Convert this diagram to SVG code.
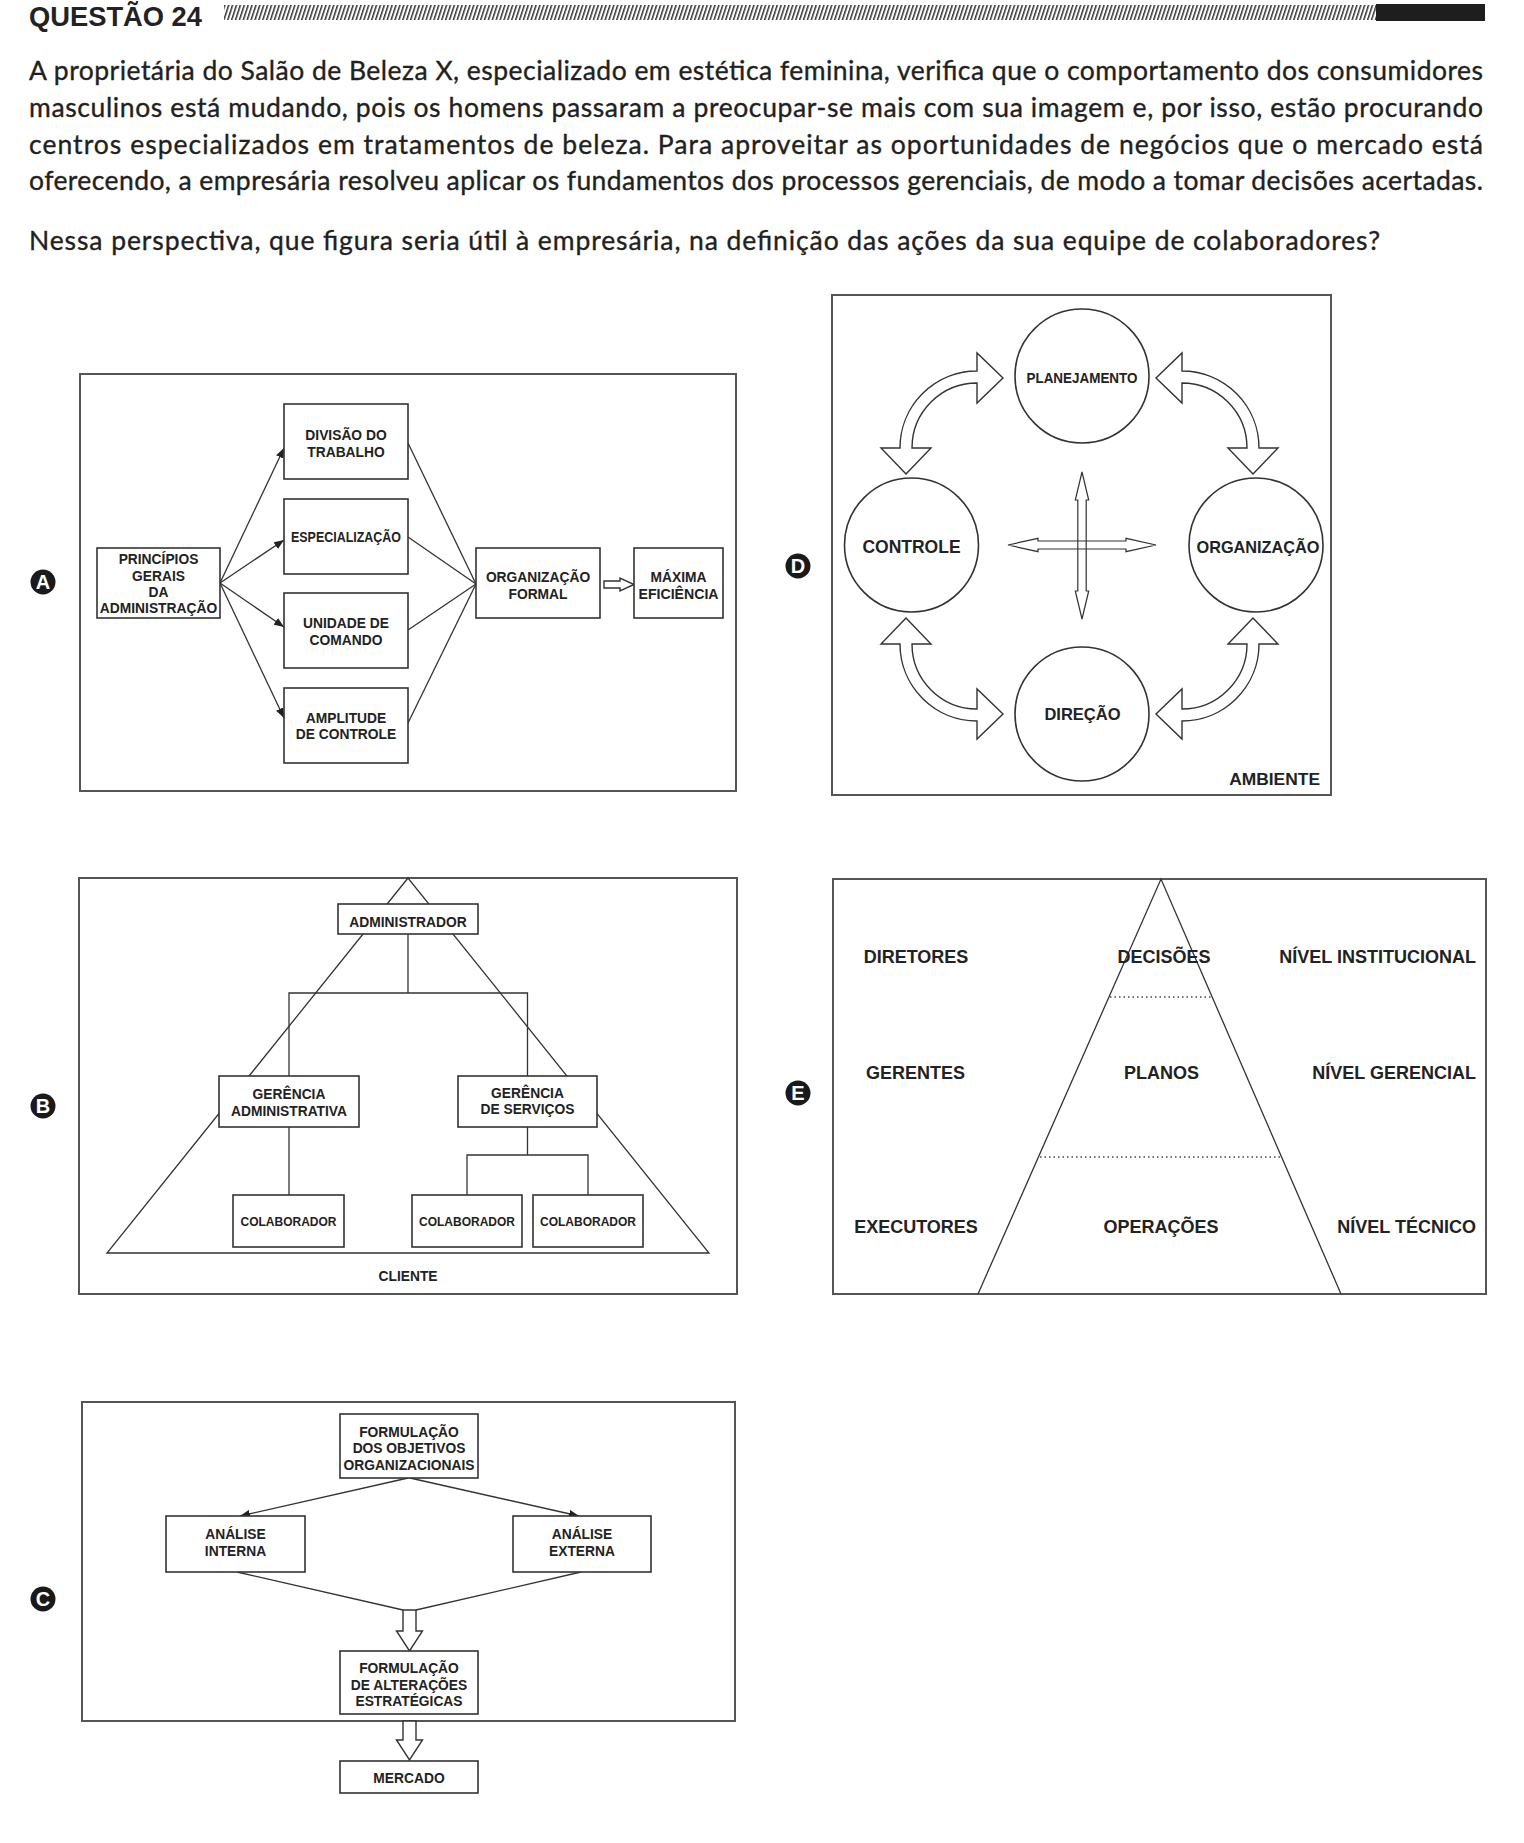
<svg xmlns="http://www.w3.org/2000/svg" width="1524" height="1843" viewBox="0 0 1524 1843">
<defs>
<style>
.body{font-family:Lato,"Open Sans",sans-serif;font-size:26.5px;fill:#231f20;stroke:#231f20;stroke-width:0.35}
.head{font-family:"Liberation Sans",Arial,sans-serif;font-weight:bold;font-size:27.5px;fill:#222}
.lbl{font-family:"Liberation Sans",Arial,sans-serif;font-weight:bold;font-size:13.8px;fill:#222;text-anchor:middle}
.sm{font-size:12px}
.e{font-size:18px}
.end{text-anchor:end}
.frame{fill:#fff;stroke:#555;stroke-width:2}
.box{fill:#fff;stroke:#333;stroke-width:1.6}
.circ{fill:#fff;stroke:#333;stroke-width:1.6}
.ln{fill:none;stroke:#333;stroke-width:1.3}
.dot{fill:none;stroke:#444;stroke-width:1.4;stroke-dasharray:1.5 3}
.hol{fill:#fff;stroke:#333;stroke-width:1.4;stroke-linejoin:miter}
.holn{fill:none;stroke:#333;stroke-width:1.2;stroke-linejoin:miter}
.badge circle{fill:#1a1a1a}
.badge text{font-family:"Liberation Sans",Arial,sans-serif;font-weight:bold;font-size:20px;fill:#fff;text-anchor:middle}
</style>
<marker id="ah" viewBox="0 0 10 8" refX="10" refY="4" markerWidth="10" markerHeight="8" markerUnits="userSpaceOnUse" orient="auto">
<path d="M0,0 L10,4 L0,8 Z" fill="#222"/>
</marker>
<pattern id="hatch" patternUnits="userSpaceOnUse" width="3.7" height="20" patternTransform="rotate(18)">
<rect x="0" y="0" width="1.5" height="20" fill="#333"/>
</pattern>
<path id="arrTL" class="hol" d="M906,474 L931,448 L912,448 A65,65 0 0 1 977,383 L977,403 L1003,378 L977,353 L977,371 A77,77 0 0 0 900,448 L881,448 Z"/>
</defs>
<rect x="0" y="0" width="1524" height="1843" fill="#fff"/>

<g id="header">
<text class="head" x="29" y="25.5" textLength="173" lengthAdjust="spacingAndGlyphs">QUESTÃO 24</text>
<rect x="224" y="5" width="1152" height="15" fill="url(#hatch)"/>
<rect x="1376" y="4" width="109" height="17" fill="#1e1e1e"/>
</g>

<g id="statement">
<text class="body" x="29" y="80" textLength="1454" lengthAdjust="spacing">A proprietária do Salão de Beleza X, especializado em estética feminina, verifica que o comportamento dos consumidores</text>
<text class="body" x="29" y="117" textLength="1454" lengthAdjust="spacing">masculinos está mudando, pois os homens passaram a preocupar-se mais com sua imagem e, por isso, estão procurando</text>
<text class="body" x="29" y="153.5" textLength="1454" lengthAdjust="spacing">centros especializados em tratamentos de beleza. Para aproveitar as oportunidades de negócios que o mercado está</text>
<text class="body" x="29" y="190" textLength="1454" lengthAdjust="spacing">oferecendo, a empresária resolveu aplicar os fundamentos dos processos gerenciais, de modo a tomar decisões acertadas.</text>
<text class="body" x="29" y="250" textLength="1351" lengthAdjust="spacing">Nessa perspectiva, que figura seria útil à empresária, na definição das ações da sua equipe de colaboradores?</text>
</g>

<g id="badges">
<g class="badge" id="badge-a"><circle cx="43" cy="582" r="12.5"/><text x="43" y="589">A</text></g>
<g class="badge" id="badge-b"><circle cx="43" cy="1106" r="12.5"/><text x="43" y="1113">B</text></g>
<g class="badge" id="badge-c"><circle cx="43" cy="1599" r="12.5"/><text x="43" y="1606">C</text></g>
<g class="badge" id="badge-d"><circle cx="798" cy="566" r="12.5"/><text x="798" y="573">D</text></g>
<g class="badge" id="badge-e"><circle cx="798" cy="1093" r="12.5"/><text x="798" y="1100">E</text></g>
</g>

<!-- FIGURE A -->
<g id="figA">
<rect class="frame" x="80" y="374" width="656" height="417"/>
<g id="a-connectors">
<line class="ln" x1="220" y1="583" x2="284" y2="448" marker-end="url(#ah)"/>
<line class="ln" x1="220" y1="583" x2="284" y2="540" marker-end="url(#ah)"/>
<line class="ln" x1="220" y1="583" x2="284" y2="627" marker-end="url(#ah)"/>
<line class="ln" x1="220" y1="583" x2="284" y2="718" marker-end="url(#ah)"/>
<line class="ln" x1="408" y1="443" x2="476" y2="584"/>
<line class="ln" x1="408" y1="537" x2="476" y2="584"/>
<line class="ln" x1="408" y1="630" x2="476" y2="584"/>
<line class="ln" x1="408" y1="723" x2="476" y2="584"/>
<path class="hol" d="M604,581 L620,581 L620,578 L634,584.5 L620,591 L620,588 L604,588 Z"/>
</g>
<g id="a-principios"><rect class="box" x="97" y="548" width="123" height="70"/>
<text class="lbl" x="158.5" y="564">PRINCÍPIOS</text><text class="lbl" x="158.5" y="581">GERAIS</text><text class="lbl" x="158.5" y="597">DA</text><text class="lbl" x="158.5" y="613">ADMINISTRAÇÃO</text></g>
<g id="a-divisao"><rect class="box" x="284" y="404" width="124" height="75"/>
<text class="lbl" x="346" y="440">DIVISÃO DO</text><text class="lbl" x="346" y="457">TRABALHO</text></g>
<g id="a-especializacao"><rect class="box" x="284" y="499" width="124" height="75"/>
<text class="lbl" x="346" y="542" textLength="110" lengthAdjust="spacingAndGlyphs">ESPECIALIZAÇÃO</text></g>
<g id="a-unidade"><rect class="box" x="284" y="593" width="124" height="75"/>
<text class="lbl" x="346" y="628">UNIDADE DE</text><text class="lbl" x="346" y="645">COMANDO</text></g>
<g id="a-amplitude"><rect class="box" x="284" y="688" width="124" height="75"/>
<text class="lbl" x="346" y="723">AMPLITUDE</text><text class="lbl" x="346" y="739">DE CONTROLE</text></g>
<g id="a-organizacao"><rect class="box" x="476" y="548" width="124" height="70"/>
<text class="lbl" x="538" y="582">ORGANIZAÇÃO</text><text class="lbl" x="538" y="599">FORMAL</text></g>
<g id="a-maxima"><rect class="box" x="634" y="548" width="89" height="70"/>
<text class="lbl" x="678.5" y="582">MÁXIMA</text><text class="lbl" x="678.5" y="599" textLength="80" lengthAdjust="spacingAndGlyphs">EFICIÊNCIA</text></g>
</g>

<!-- FIGURE B -->
<g id="figB">
<rect class="frame" x="79" y="878" width="658" height="416"/>
<polygon class="ln" points="408,878 107,1253 709,1253"/>
<g id="b-connectors">
<polyline class="ln" points="408,934 408,993"/>
<polyline class="ln" points="289,1076 289,993 527.5,993 527.5,1076"/>
<polyline class="ln" points="289,1127 289,1195"/>
<polyline class="ln" points="527.5,1127 527.5,1155"/>
<polyline class="ln" points="467,1195 467,1155 588,1155 588,1195"/>
</g>
<g id="b-admin"><rect class="box" x="338" y="904" width="140" height="30"/>
<text class="lbl" x="408" y="927">ADMINISTRADOR</text></g>
<g id="b-ger-adm"><rect class="box" x="219" y="1076" width="140" height="51"/>
<text class="lbl" x="289" y="1099">GERÊNCIA</text><text class="lbl" x="289" y="1116">ADMINISTRATIVA</text></g>
<g id="b-ger-serv"><rect class="box" x="458" y="1076" width="139" height="51"/>
<text class="lbl" x="527.5" y="1098">GERÊNCIA</text><text class="lbl" x="527.5" y="1114">DE SERVIÇOS</text></g>
<g id="b-colab1"><rect class="box" x="233" y="1195" width="111" height="52"/>
<text class="lbl sm" x="288.5" y="1225.5">COLABORADOR</text></g>
<g id="b-colab2"><rect class="box" x="412" y="1195" width="110" height="52"/>
<text class="lbl sm" x="467" y="1225.5">COLABORADOR</text></g>
<g id="b-colab3"><rect class="box" x="533" y="1195" width="110" height="52"/>
<text class="lbl sm" x="588" y="1225.5">COLABORADOR</text></g>
<g id="b-cliente"><text class="lbl" x="408" y="1281">CLIENTE</text></g>
</g>

<!-- FIGURE C -->
<g id="figC">
<rect class="frame" x="82" y="1402" width="653" height="319"/>
<g id="c-connectors">
<line class="ln" x1="408" y1="1478" x2="240" y2="1516" marker-end="url(#ah)"/>
<line class="ln" x1="410" y1="1478" x2="579" y2="1516" marker-end="url(#ah)"/>
<line class="ln" x1="237" y1="1572" x2="403" y2="1610"/>
<line class="ln" x1="581" y1="1572" x2="416" y2="1610"/>
<path class="hol" d="M403,1610 L416,1610 L416,1631 L422.5,1631 L409.5,1651 L396.5,1631 L403,1631 Z"/>
<path class="hol" d="M403,1721 L416,1721 L416,1740 L422.5,1740 L409.5,1760 L396.5,1740 L403,1740 Z"/>
</g>
<g id="c-objetivos"><rect class="box" x="340" y="1414" width="138" height="64"/>
<text class="lbl" x="409" y="1437">FORMULAÇÃO</text><text class="lbl" x="409" y="1453">DOS OBJETIVOS</text><text class="lbl" x="409" y="1470">ORGANIZACIONAIS</text></g>
<g id="c-interna"><rect class="box" x="166" y="1516" width="139" height="56"/>
<text class="lbl" x="235.5" y="1539">ANÁLISE</text><text class="lbl" x="235.5" y="1556">INTERNA</text></g>
<g id="c-externa"><rect class="box" x="513" y="1516" width="138" height="56"/>
<text class="lbl" x="582" y="1539">ANÁLISE</text><text class="lbl" x="582" y="1556">EXTERNA</text></g>
<g id="c-alteracoes"><rect class="box" x="340" y="1651" width="138" height="63"/>
<text class="lbl" x="409" y="1673">FORMULAÇÃO</text><text class="lbl" x="409" y="1690">DE ALTERAÇÕES</text><text class="lbl" x="409" y="1706">ESTRATÉGICAS</text></g>
<g id="c-mercado"><rect class="box" x="340" y="1761" width="138" height="32"/>
<text class="lbl" x="409" y="1783">MERCADO</text></g>
</g>

<!-- FIGURE D -->
<g id="figD">
<rect class="frame" x="832" y="295" width="499" height="500"/>
<g id="d-connectors">
<use href="#arrTL"/>
<use href="#arrTL" transform="matrix(-1 0 0 1 2159 0)"/>
<use href="#arrTL" transform="matrix(1 0 0 -1 0 1092)"/>
<use href="#arrTL" transform="matrix(-1 0 0 -1 2159 1092)"/>
<path class="holn" d="M1082,472 L1088.7,500 L1086.2,500 L1086.2,591 L1088.7,591 L1082,619 L1075.3,591 L1077.8,591 L1077.8,500 L1075.3,500 Z"/>
<path class="holn" d="M1008,545 L1038,538.3 L1038,541 L1126,541 L1126,538.3 L1156,545 L1126,551.7 L1126,549 L1038,549 L1038,551.7 Z"/>
</g>
<g id="d-planejamento"><circle class="circ" cx="1082" cy="376" r="67"/>
<text class="lbl" x="1082" y="382.5" style="font-size:14.5px" textLength="111" lengthAdjust="spacingAndGlyphs">PLANEJAMENTO</text></g>
<g id="d-controle"><circle class="circ" cx="911.5" cy="545" r="67"/>
<text class="lbl" x="911.5" y="553" style="font-size:17.5px">CONTROLE</text></g>
<g id="d-organizacao"><circle class="circ" cx="1256" cy="545" r="67"/>
<text class="lbl" x="1258" y="553" style="font-size:17px" textLength="123" lengthAdjust="spacingAndGlyphs">ORGANIZAÇÃO</text></g>
<g id="d-direcao"><circle class="circ" cx="1082" cy="714" r="67"/>
<text class="lbl" x="1082.5" y="720" style="font-size:16.5px">DIREÇÃO</text></g>
<g id="d-ambiente"><text class="lbl end" x="1320" y="785" style="font-size:17.4px">AMBIENTE</text></g>
</g>

<!-- FIGURE E -->
<g id="figE">
<rect class="frame" x="833" y="879" width="653" height="415"/>
<g id="e-connectors">
<polyline class="ln" points="978,1294 1161,879 1341,1294"/>
<line class="dot" x1="1110" y1="997" x2="1212" y2="997"/>
<line class="dot" x1="1040" y1="1157" x2="1282" y2="1157"/>
</g>
<g id="e-row1">
<text class="lbl e" x="916" y="963">DIRETORES</text>
<text class="lbl e" x="1164" y="963">DECISÕES</text>
<text class="lbl e end" x="1476" y="963">NÍVEL INSTITUCIONAL</text>
</g>
<g id="e-row2">
<text class="lbl e" x="915.5" y="1079">GERENTES</text>
<text class="lbl e" x="1161.5" y="1079">PLANOS</text>
<text class="lbl e end" x="1476" y="1079">NÍVEL GERENCIAL</text>
</g>
<g id="e-row3">
<text class="lbl e" x="916" y="1233">EXECUTORES</text>
<text class="lbl e" x="1161" y="1233">OPERAÇÕES</text>
<text class="lbl e end" x="1476" y="1233">NÍVEL TÉCNICO</text>
</g>
</g>
</svg>
